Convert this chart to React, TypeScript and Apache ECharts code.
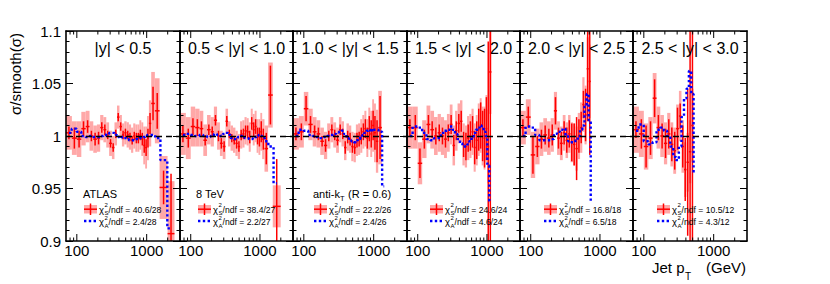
import React, { useEffect, useRef } from 'react';
import * as echarts from 'echarts';

// ---------- data ----------
const ptEdges = [70, 85, 100, 116, 134, 152, 172, 194, 216, 240, 264, 290, 318, 346, 376, 408, 442, 478, 516, 556, 598, 642, 688, 736, 786, 838, 894, 952, 1012, 1076, 1162, 1310, 1530, 1992, 2500];

const rapidityTitles = ['|y| < 0.5', '0.5 < |y| < 1.0', '1.0 < |y| < 1.5', '1.5 < |y| < 2.0', '2.0 < |y| < 2.5', '2.5 < |y| < 3.0'];
const chi2Smooth = ['40.6/28', '38.4/27', '22.2/26', '24.6/24', '16.8/18', '10.5/12'];
const chi2Alt = ['2.4/28', '2.2/27', '2.4/26', '4.6/24', '6.5/18', '4.3/12'];
const yTickValues = [0.9, 0.95, 1, 1.05, 1.1];
const xMajorTicks = [100, 1000];
const xMinorTicks = [80, 90, 200, 300, 400, 500, 600, 700, 800, 900, 2000];

// |y| < 0.5
const ratioY0 = [1.003, 0.998, 0.997, 1.007, 1.009, 1.000, 0.997, 0.998, 1.008, 1.006, 1.001, 0.993, 0.989, 1.002, 1.018, 1.009, 1.001, 1.003, 1.001, 0.999, 0.996, 1.000, 0.998, 0.998, 1.001, 0.997, 0.991, 0.989, 0.998, 1.012, 1.031, 1.024, 0.951, 0.907];
const statY0 = [0.006, 0.010, 0.008, 0.007, 0.006, 0.005, 0.006, 0.006, 0.005, 0.005, 0.004, 0.004, 0.004, 0.004, 0.004, 0.004, 0.004, 0.004, 0.004, 0.004, 0.004, 0.004, 0.005, 0.005, 0.005, 0.006, 0.007, 0.008, 0.009, 0.010, 0.016, 0.017, 0.016, 0.057];
const systY0 = [0.016, 0.016, 0.017, 0.016, 0.015, 0.014, 0.013, 0.013, 0.012, 0.012, 0.012, 0.012, 0.011, 0.011, 0.011, 0.011, 0.011, 0.011, 0.012, 0.012, 0.012, 0.012, 0.013, 0.013, 0.014, 0.016, 0.018, 0.020, 0.021, 0.022, 0.030, 0.031, 0.030, 0.050];
const smoothY0 = [1.003, 1.007, 1.004, 1.000, 0.999, 1.000, 0.999, 0.999, 1.000, 1.001, 1.002, 1.003, 1.003, 1.001, 0.999, 0.998, 0.999, 0.998, 0.997, 0.996, 0.996, 0.996, 0.997, 0.997, 0.998, 0.998, 0.999, 1.000, 1.001, 1.001, 1.001, 0.998, 0.977, 0.912];

// 0.5 < |y| < 1.0
const ratioY1 = [1.002, 0.998, 1.009, 1.008, 1.007, 0.996, 1.006, 1.004, 1.015, 1.000, 0.993, 0.990, 1.014, 1.002, 0.998, 0.996, 0.993, 0.990, 1.001, 1.002, 1.005, 1.004, 0.999, 1.012, 1.006, 1.009, 1.000, 0.999, 1.004, 0.997, 0.988, 1.039, 0.933];
const statY1 = [0.008, 0.009, 0.008, 0.008, 0.007, 0.005, 0.005, 0.005, 0.005, 0.005, 0.005, 0.005, 0.005, 0.004, 0.004, 0.004, 0.005, 0.005, 0.005, 0.005, 0.005, 0.006, 0.006, 0.006, 0.007, 0.007, 0.008, 0.009, 0.010, 0.010, 0.015, 0.028, 0.045];
const systY1 = [0.020, 0.020, 0.019, 0.018, 0.017, 0.015, 0.014, 0.014, 0.013, 0.013, 0.012, 0.012, 0.012, 0.012, 0.012, 0.012, 0.012, 0.012, 0.013, 0.013, 0.013, 0.013, 0.014, 0.014, 0.015, 0.015, 0.016, 0.017, 0.018, 0.019, 0.022, 0.031, 0.020];
const smoothY1 = [1.001, 1.002, 1.001, 1.000, 1.001, 1.000, 0.999, 1.000, 1.002, 1.001, 1.000, 1.002, 1.003, 1.001, 0.998, 0.997, 0.998, 0.999, 1.000, 0.999, 0.998, 0.998, 0.997, 0.997, 0.998, 0.999, 1.000, 1.001, 1.000, 0.998, 0.995, 0.990, 0.955];

// 1.0 < |y| < 1.5
const ratioY2 = [1.002, 1.004, 1.026, 1.011, 1.004, 1.002, 0.995, 0.991, 1.000, 1.006, 1.001, 0.996, 1.006, 1.002, 0.989, 0.999, 0.997, 0.990, 0.989, 0.996, 0.997, 1.000, 1.004, 1.007, 0.998, 1.007, 1.002, 1.010, 1.003, 0.995, 1.008];
const statY2 = [0.006, 0.008, 0.012, 0.008, 0.006, 0.006, 0.005, 0.006, 0.005, 0.005, 0.005, 0.005, 0.005, 0.005, 0.006, 0.006, 0.006, 0.006, 0.006, 0.007, 0.007, 0.008, 0.008, 0.009, 0.010, 0.012, 0.013, 0.014, 0.016, 0.020, 0.030];
const systY2 = [0.015, 0.015, 0.016, 0.015, 0.014, 0.013, 0.013, 0.013, 0.012, 0.012, 0.012, 0.012, 0.012, 0.012, 0.012, 0.013, 0.013, 0.014, 0.014, 0.015, 0.015, 0.016, 0.016, 0.017, 0.018, 0.020, 0.022, 0.025, 0.028, 0.030, 0.035];
const smoothY2 = [1.000, 1.006, 1.005, 1.001, 1.000, 0.999, 0.998, 0.999, 1.000, 1.001, 1.002, 1.003, 1.004, 1.005, 1.002, 0.998, 0.996, 0.995, 0.994, 0.996, 0.997, 0.999, 1.001, 1.003, 1.005, 1.006, 1.004, 1.007, 1.006, 1.006, 1.004, 0.952];

// 1.5 < |y| < 2.0
const ratioY3 = [1.008, 1.008, 0.974, 0.997, 1.011, 1.006, 1.000, 1.003, 1.000, 0.997, 1.003, 1.011, 0.991, 1.005, 1.012, 1.014, 0.992, 0.990, 0.998, 1.000, 1.004, 0.989, 0.996, 1.006, 1.010, 1.000, 0.998, 1.007, 0.990, 1.061];
const statY3 = [0.008, 0.012, 0.014, 0.009, 0.009, 0.008, 0.008, 0.008, 0.008, 0.008, 0.008, 0.009, 0.010, 0.009, 0.009, 0.010, 0.012, 0.013, 0.013, 0.014, 0.015, 0.016, 0.018, 0.020, 0.022, 0.024, 0.028, 0.030, 0.100, 0.250];
const systY3 = [0.020, 0.020, 0.020, 0.018, 0.018, 0.018, 0.018, 0.018, 0.018, 0.018, 0.018, 0.019, 0.019, 0.019, 0.019, 0.020, 0.020, 0.020, 0.021, 0.021, 0.022, 0.023, 0.024, 0.025, 0.026, 0.028, 0.030, 0.032, 0.035, 0.040];
const smoothY3 = [1.000, 1.009, 1.008, 1.003, 0.997, 0.996, 0.998, 0.998, 1.003, 1.005, 1.006, 1.009, 1.006, 1.002, 0.997, 0.993, 0.990, 0.990, 0.992, 0.995, 0.999, 1.003, 1.006, 1.008, 1.010, 1.008, 1.004, 1.000, 0.972, 0.938];

// 2.0 < |y| < 2.5
const ratioY4 = [1.008, 1.018, 0.982, 0.990, 0.997, 1.001, 0.998, 1.001, 1.024, 0.998, 0.993, 1.003, 0.996, 1.002, 0.994, 0.992, 0.988, 1.000, 1.008, 1.030, 1.020, 1.064, 1.052];
const statY4 = [0.008, 0.010, 0.018, 0.010, 0.009, 0.009, 0.009, 0.010, 0.013, 0.010, 0.011, 0.011, 0.012, 0.013, 0.018, 0.020, 0.030, 0.016, 0.015, 0.013, 0.025, 0.050, 0.070];
const systY4 = [0.016, 0.017, 0.022, 0.017, 0.016, 0.016, 0.016, 0.016, 0.018, 0.016, 0.016, 0.017, 0.017, 0.018, 0.019, 0.020, 0.021, 0.022, 0.024, 0.026, 0.028, 0.030, 0.035];
const smoothY4 = [1.000, 1.009, 1.008, 1.001, 0.996, 0.996, 0.996, 0.997, 1.002, 1.004, 1.006, 1.007, 1.000, 0.995, 0.994, 0.994, 0.996, 1.000, 1.006, 1.010, 1.028, 1.040, 1.015, 0.938];

// 2.5 < |y| < 3.0
const ratioY5 = [1.006, 1.002, 0.990, 0.998, 1.036, 1.008, 1.000, 0.993, 1.002, 0.992, 0.986, 1.007, 1.019, 0.990, 0.968, 0.975, 0.985, 1.010];
const statY5 = [0.008, 0.014, 0.020, 0.016, 0.018, 0.012, 0.012, 0.014, 0.014, 0.016, 0.018, 0.020, 0.012, 0.020, 0.030, 0.070, 0.200, 0.300];
const systY5 = [0.022, 0.022, 0.022, 0.020, 0.024, 0.020, 0.020, 0.020, 0.020, 0.021, 0.022, 0.023, 0.024, 0.025, 0.026, 0.028, 0.030, 0.035];
const smoothY5 = [1.005, 1.011, 0.995, 0.992, 0.994, 1.006, 1.008, 1.005, 1.000, 0.990, 0.980, 0.977, 0.990, 1.018, 1.036, 1.045, 1.062, 1.040, 0.965];

const panelData = [
  { ratio: ratioY0, stat: statY0, syst: systY0, smooth: smoothY0 },
  { ratio: ratioY1, stat: statY1, syst: systY1, smooth: smoothY1 },
  { ratio: ratioY2, stat: statY2, syst: systY2, smooth: smoothY2 },
  { ratio: ratioY3, stat: statY3, syst: systY3, smooth: smoothY3 },
  { ratio: ratioY4, stat: statY4, syst: systY4, smooth: smoothY4 },
  { ratio: ratioY5, stat: statY5, syst: systY5, smooth: smoothY5 },
];
const cornerLabels = ['ATLAS', '8 TeV', 'anti-k'];

// ---------- layout / style ----------
const FONT = '"Liberation Sans", Arial, Helvetica, sans-serif';
const PINK = '#ffa8a8';
const RED = '#ff0000';
const BLUE = '#0000ff';
const X_MIN = 70;
const X_MAX = 3000;
const Y_MIN = 0.9;
const Y_MAX = 1.1;
const PANEL_EDGES = [66, 180, 293, 407, 520, 633, 747];
const PLOT_TOP = 31;
const PLOT_H = 210;
const LEGEND_X = [84, 198, 314, 430, 544, 657];

function binCenter(i: number) {
  return Math.sqrt(ptEdges[i] * ptEdges[i + 1]);
}

function buildOption() {
  const grid: any[] = [];
  const xAxis: any[] = [];
  const yAxis: any[] = [];
  const series: any[] = [];
  const graphic: any[] = [];

  const axisLine = { show: true, onZero: false, lineStyle: { color: '#000', width: 1.6 } };

  for (let i = 0; i < 6; i++) {
    const left = PANEL_EDGES[i];
    const width = PANEL_EDGES[i + 1] - left;
    grid.push({ left, top: PLOT_TOP, width, height: PLOT_H, containLabel: false });

    const xBase = {
      type: 'log', logBase: 10, gridIndex: i, min: X_MIN, max: X_MAX,
      axisLine, axisTick: { show: false }, minorTick: { show: false }, splitLine: { show: false }, z: 10,
    };
    xAxis.push({
      ...xBase, position: 'bottom',
      axisLabel: {
        show: true, color: '#000', fontSize: 15, lineHeight: 14, fontFamily: FONT, margin: 2,
        formatter: (v: number) => {
          const r = Math.round(v);
          return xMajorTicks.indexOf(r) >= 0 ? String(r) : '';
        },
      },
    });
    xAxis.push({ ...xBase, position: 'top', axisLabel: { show: false } });

    const yBase = {
      type: 'value', gridIndex: i, min: Y_MIN, max: Y_MAX, interval: 0.05,
      axisLine,
      axisTick: { show: true, inside: true, length: 7, lineStyle: { color: '#000', width: 1 } },
      minorTick: { show: true, splitNumber: 5, length: 3.5, lineStyle: { color: '#000', width: 1 } },
      splitLine: { show: false }, z: 10,
    };
    yAxis.push({
      ...yBase, position: 'left',
      axisLabel: {
        show: i === 0, color: '#000', fontSize: 15, fontFamily: FONT, margin: 5,
        formatter: (v: number) => {
          const m = yTickValues.find((t) => Math.abs(t - v) < 1e-6);
          return m === undefined ? '' : String(m);
        },
      },
    });
    yAxis.push({ ...yBase, position: 'right', axisLabel: { show: false } });

    const d = panelData[i];
    const boxData = d.ratio.map((v, k) => [ptEdges[k], ptEdges[k + 1], v, d.syst[k]]);
    const errData = d.ratio.map((v, k) => [ptEdges[k], ptEdges[k + 1], v, d.stat[k], binCenter(k)]);
    const smoothData = d.smooth.map((v, k) => [binCenter(k), v]);

    series.push({
      type: 'custom', xAxisIndex: 2 * i, yAxisIndex: 2 * i, clip: true, z: 2, silent: true,
      data: boxData, encode: { x: [0, 1], y: 2 },
      renderItem: (_p: any, api: any) => {
        const a = api.coord([api.value(0), api.value(2) + api.value(3)]);
        const b = api.coord([api.value(1), api.value(2) - api.value(3)]);
        return { type: 'rect', shape: { x: a[0], y: a[1], width: b[0] - a[0], height: b[1] - a[1] }, style: { fill: PINK } };
      },
      markLine: {
        silent: true, symbol: ['none', 'none'], label: { show: false },
        lineStyle: { color: '#000', width: 1.3, type: [6, 4] },
        data: [{ yAxis: 1 }],
      },
    });
    series.push({
      type: 'custom', xAxisIndex: 2 * i, yAxisIndex: 2 * i, clip: true, z: 3, silent: true,
      data: errData, encode: { x: [0, 1], y: 2 },
      renderItem: (_p: any, api: any) => {
        const v = api.value(2), s = api.value(3), c = api.value(4);
        const l = api.coord([api.value(0), v]);
        const r = api.coord([api.value(1), v]);
        const top = api.coord([c, v + s]);
        const bot = api.coord([c, v - s]);
        const st = { stroke: RED, lineWidth: 1.5 };
        return {
          type: 'group', children: [
            { type: 'line', shape: { x1: l[0], y1: l[1], x2: r[0], y2: r[1] }, style: st },
            { type: 'line', shape: { x1: top[0], y1: top[1], x2: bot[0], y2: bot[1] }, style: st },
          ],
        };
      },
    });
    series.push({
      type: 'line', xAxisIndex: 2 * i, yAxisIndex: 2 * i, z: 4, silent: true,
      data: smoothData, step: 'middle', showSymbol: false, symbol: 'none',
      lineStyle: { color: BLUE, width: 2.4, type: [2.4, 2.4] },
    });
    const tickData = [
      ...xMajorTicks.map((v) => [v, 1, 1]),
      ...xMinorTicks.map((v) => [v, 1, 0]),
    ];
    series.push({
      type: 'custom', xAxisIndex: 2 * i, yAxisIndex: 2 * i, z: 10, silent: true,
      data: tickData, encode: { x: 0, y: 1 },
      renderItem: (_p: any, api: any) => {
        const v = api.value(0);
        const len = api.value(2) === 1 ? 7 : 3.5;
        const b = api.coord([v, Y_MIN]);
        const t = api.coord([v, Y_MAX]);
        const st = { stroke: '#000', lineWidth: 1 };
        return {
          type: 'group', children: [
            { type: 'line', shape: { x1: b[0], y1: b[1], x2: b[0], y2: b[1] - len }, style: st },
            { type: 'line', shape: { x1: t[0], y1: t[1], x2: t[0], y2: t[1] + len }, style: st },
          ],
        };
      },
    });

    // panel title
    graphic.push({
      type: 'text', x: (left + PANEL_EDGES[i + 1]) / 2, y: 48, z: 20,
      style: { text: rapidityTitles[i], fontSize: 16, fontFamily: FONT, fill: '#000', textAlign: 'center', textVerticalAlign: 'middle' },
    });

    // legend
    const lx = LEGEND_X[i];
    const txt = (text: string, x: number, y: number, size: number, lh: number) => ({
      type: 'text', x: lx + x, y, z: 20,
      style: { text, fontSize: size, lineHeight: lh, fontFamily: FONT, fill: '#000', textVerticalAlign: 'middle' },
    });
    graphic.push(
      { type: 'rect', z: 20, shape: { x: lx, y: 205, width: 13, height: 8.5 }, style: { fill: PINK } },
      { type: 'line', z: 20, shape: { x1: lx, y1: 209.2, x2: lx + 13, y2: 209.2 }, style: { stroke: RED, lineWidth: 1.5 } },
      { type: 'line', z: 20, shape: { x1: lx + 6.5, y1: 203.5, x2: lx + 6.5, y2: 215 }, style: { stroke: RED, lineWidth: 1.5 } },
      { type: 'line', z: 20, shape: { x1: lx, y1: 221, x2: lx + 13, y2: 221 }, style: { stroke: BLUE, lineWidth: 2.4, lineDash: [2.4, 2.4] } },
      txt('χ', 15, 209.5, 9.5, 9),
      txt('2', 20.6, 204.8, 6, 5),
      txt('S', 20.6, 212.6, 6, 5),
      txt('/ndf = ' + chi2Smooth[i], 24.6, 209.5, 8.6, 9),
      txt('χ', 15, 221.8, 9.5, 9),
      txt('2', 20.6, 217.7, 6, 5),
      txt('A', 20.6, 225.6, 6, 5),
      txt('/ndf = ' + chi2Alt[i], 24.6, 221.8, 8.6, 9),
    );
  }

  // corner labels
  const lab = (text: string, x: number, y: number, size: number, lh?: number) => ({
    type: 'text', x, y, z: 20,
    style: { text, fontSize: size, lineHeight: lh ?? size, fontFamily: FONT, fill: '#000', textVerticalAlign: 'middle' },
  });
  graphic.push(lab(cornerLabels[0], 83, 194, 11));
  graphic.push(lab(cornerLabels[1], 196, 194, 11));
  graphic.push(lab(cornerLabels[2], 313, 194, 11));
  graphic.push(lab('T', 340, 198, 7.5));
  graphic.push(lab('(R = 0.6)', 348, 194, 11));

  // axis titles
  graphic.push({
    type: 'text', x: 15, y: 74, rotation: Math.PI / 2, z: 20,
    style: { text: 'σ/smooth(σ)', fontSize: 15, fontFamily: FONT, fill: '#000', textAlign: 'center', textVerticalAlign: 'middle' },
  });
  graphic.push(lab('Jet p', 652, 267, 15, 14));
  graphic.push(lab('T', 685, 276, 10, 9));
  graphic.push({
    type: 'text', x: 746, y: 267, z: 20,
    style: { text: '(GeV)', fontSize: 15, lineHeight: 14, fontFamily: FONT, fill: '#000', textAlign: 'right', textVerticalAlign: 'middle' },
  });

  return { animation: false, backgroundColor: '#fff', grid, xAxis, yAxis, series, graphic };
}

export default function App() {
  const ref = useRef<HTMLDivElement>(null);
  useEffect(() => {
    document.body.style.margin = '0';
    const chart = echarts.init(ref.current as HTMLDivElement, null, { renderer: 'svg' });
    chart.setOption(buildOption() as any);
    return () => chart.dispose();
  }, []);
  return <div ref={ref} style={{ width: 830, height: 284 }} />;
}
